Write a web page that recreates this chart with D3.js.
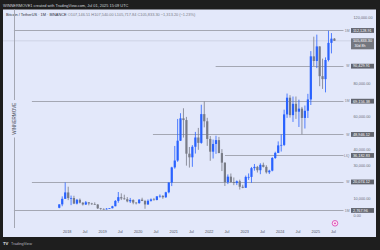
<!DOCTYPE html>
<html><head><meta charset="utf-8">
<script src="https://cdn.jsdelivr.net/npm/d3@7"></script>
<style>body{margin:0;background:#1e1e1e;overflow:hidden}svg{display:block}</style>
</head><body><svg id="c" width="380" height="250"></svg>
<script>
const months = ["2017-10","2017-11","2017-12",
"2018-01","2018-02","2018-03","2018-04","2018-05","2018-06","2018-07","2018-08","2018-09","2018-10","2018-11","2018-12",
"2019-01","2019-02","2019-03","2019-04","2019-05","2019-06","2019-07","2019-08","2019-09","2019-10","2019-11","2019-12",
"2020-01","2020-02","2020-03","2020-04","2020-05","2020-06","2020-07","2020-08","2020-09","2020-10","2020-11","2020-12",
"2021-01","2021-02","2021-03","2021-04","2021-05","2021-06","2021-07","2021-08","2021-09","2021-10","2021-11","2021-12",
"2022-01","2022-02","2022-03","2022-04","2022-05","2022-06","2022-07","2022-08","2022-09","2022-10","2022-11","2022-12",
"2023-01","2023-02","2023-03","2023-04","2023-05","2023-06","2023-07","2023-08","2023-09","2023-10","2023-11","2023-12",
"2024-01","2024-02","2024-03","2024-04","2024-05","2024-06","2024-07","2024-08","2024-09","2024-10","2024-11","2024-12",
"2025-01","2025-02","2025-03","2025-04","2025-05","2025-06","2025-07"];
const openV = [4378,6463,9838,
13716,10285,10326,6923,9246,7494,6391,7730,7011,6626,6371,4041,
3702,3434,3813,4103,5321,8555,10854,10085,9590,8289,9140,7541,
7195,9352,8523,6410,8620,9448,9138,11335,11650,10776,13791,19695,
28923,33092,45135,58740,57694,37253,35045,41461,47100,43824,61300,56950,
46216,38466,43160,45510,37630,31801,19942,23293,20050,19423,20491,17164,
16542,23125,23141,28465,29233,27211,30472,29232,25941,26963,34639,37723,
42284,42580,61130,71280,60672,67540,62773,64629,58974,63327,70216,96407,
93576,102429,84349,82550,94172,104591,107146.51];
const highV = [6470,11300,19798,
17176,11786,11690,9765,10020,7786,8507,7770,7410,7680,6586,4310,
4070,4198,4140,5600,9074,13970,13147,12325,10905,10370,9529,7750,
9578,10500,9188,9467,10067,10380,11444,12468,12067,14100,19863,29300,
41950,58352,61844,64854,59592,41330,42448,50482,52920,67000,69000,59053,
47990,45821,48189,47444,40023,31986,24668,25211,22800,20988,21480,18387,
23960,25250,29184,31000,29820,31431,31804,30244,27483,35198,38450,44729,
48970,64000,73777,72797,71979,71997,70080,65660,66498,73620,99588,108353,
109588,102500,95000,95758,111980,110530,107540];
const lowV = [4110,5325,9722,
9035,6000,6600,6425,7032,5750,6070,5880,6100,6205,3652,3157,
3349,3400,3690,4050,5300,7444,9080,9320,7710,7300,6515,6427,
6871,8445,3782,6150,8117,8833,8893,10518,9825,10374,13195,17573,
28130,32296,44950,47044,30000,28805,29278,37332,39600,43283,53256,42000,
32917,34322,37155,37578,26700,17622,18781,19520,18125,18190,15476,16256,
16499,21351,19549,26942,25811,24800,28861,25166,24901,26538,34097,37629,
38555,41884,59006,59191,56552,58402,53485,49000,52550,58946,66835,90500,
89256,78258,76606,74508,93322,98200,105717.84];
const closeV = [6463,9838,13716,
10285,10326,6923,9246,7494,6391,7730,7011,6626,6371,4041,3702,
3434,3813,4103,5321,8555,10854,10085,9590,8289,9140,7541,7195,
9352,8523,6410,8620,9448,9138,11335,11650,10776,13791,19695,28923,
33092,45135,58740,57694,37253,35045,41461,47100,43824,61300,56950,46216,
38466,43160,45510,37630,31801,19942,23293,20050,19423,20491,17164,16542,
23125,23141,28465,29233,27211,30472,29232,25941,26963,34639,37723,42284,
42580,61130,71280,60672,67540,62773,64629,58974,63327,70216,96407,93576,
102429,84349,82550,94172,104591,107147,105833.30];

const priceTicks = [0,10000,30000,40000,60000,80000,120000];
const timeTicks = ["2018-01","2018-07","2019-01","2019-07","2020-01","2020-07","2021-01","2021-07","2022-01","2022-07","2023-01","2023-07","2024-01","2024-07","2025-01","2025-07"];

const levelValues = [112128.91, 90429.91, 69156.38, 48946.12, 36182.83, 20074.12, 2767.96];
const levelTags = ["1M","W","1M","W","LIQ","W","1M"];
const levelFrom = ["2016-07-07","2022-03-13","2017-01-08","2020-06-06","2022-06-17","2017-01-08","2016-07-07"];
const markerDate = "2016-07-07";
const lastPrice = 105833.30;
const countdown = "30d 8h";

const header = "WINNERMOVE1 created with TradingView.com, Jul 01, 2025 15:09 UTC";
const symbolText = "Bitcoin / TetherUS · 1M · BINANCE";
const ohlcText = "O107,146.51 H107,540.00 L105,717.84 C105,833.30 −1,313.20 (−1.23%)";

const svg = d3.select("#c");
const FONT = "'Liberation Sans', Arial, sans-serif";
const panel = "#e3e8fa";
const up = "#2962ff", down = "#787b86";

const parseM = d3.utcParse("%Y-%m");
const parseD = d3.utcParse("%Y-%m-%d");
const x = d3.scaleUtc().domain([parseM("2018-01"), parseM("2025-01")]).range([66.7, 315.3]);
const y = d3.scaleLinear().domain([0, 120000]).range([215, 17.5]);

svg.append("rect").attr("width",380).attr("height",250).attr("fill","#1e1e1e");
svg.append("rect").attr("x",3).attr("y",9.5).attr("width",373).attr("height",227.5).attr("fill",panel);

// header
svg.append("text").attr("x",3).attr("y",6.6).attr("font-family",FONT).attr("font-size",3.9)
  .attr("fill","#d1d4dc").text(header);
const t = svg.append("text").attr("x",6).attr("y",16).attr("font-family",FONT).attr("font-size",3.9);
t.append("tspan").attr("fill","#2a2e39").text(symbolText + " ");
t.append("tspan").attr("fill","#787b86").text(ohlcText);

// last price line
svg.append("line").attr("x1",3).attr("x2",351).attr("y1",y(lastPrice)).attr("y2",y(lastPrice))
  .attr("stroke","#c9cee0").attr("stroke-width",0.8);

// level lines
levelValues.forEach((v,i)=>{
  svg.append("line").attr("x1",x(parseD(levelFrom[i]))).attr("x2",343.5)
    .attr("y1",Math.round(y(v))+0.5).attr("y2",Math.round(y(v))+0.5)
    .attr("stroke","#a4a7b3").attr("stroke-width",1);
});

// vertical marker line + label
const mx = Math.round(x(parseD(markerDate)))+0.5;
svg.append("line").attr("x1",mx).attr("x2",mx).attr("y1",9.5).attr("y2",228)
  .attr("stroke","#a4a7b3").attr("stroke-width",1);
svg.append("rect").attr("x",mx-2.5).attr("y",100).attr("width",5).attr("height",37.5).attr("fill",panel);
svg.append("text").attr("transform",`translate(${mx+1.6},118.7) rotate(-90)`)
  .attr("text-anchor","middle").attr("font-family",FONT).attr("font-size",4.6)
  .attr("fill","#50535e").text("WINNERMOVE");

// candles
const data = months.map((m,i)=>({d:parseM(m), o:openV[i], h:highV[i], l:lowV[i], c:closeV[i]}));
const cx = d => { const a = x(d.d), b = x(d3.utcMonth.offset(d.d,1)); return (a+b)/2; };
const g = svg.append("g");
g.selectAll("line.w").data(data).join("line")
  .attr("x1",d=>cx(d)).attr("x2",d=>cx(d)).attr("y1",d=>y(d.h)).attr("y2",d=>y(d.l))
  .attr("stroke",d=>d.c>=d.o?up:down).attr("stroke-width",0.8);
g.selectAll("rect.b").data(data).join("rect")
  .attr("x",d=>cx(d)-1.1).attr("width",2.2)
  .attr("y",d=>y(Math.max(d.o,d.c)))
  .attr("height",d=>Math.max(0.7, Math.abs(y(d.o)-y(d.c))))
  .attr("fill",d=>d.c>=d.o?up:down);

// price axis
const ya = svg.append("g").attr("transform","translate(353.5,0)")
  .call(d3.axisRight(y).tickValues(priceTicks).tickFormat(d3.format(",.2f")).tickSize(0).tickPadding(0));
ya.select(".domain").remove();
ya.selectAll("text").attr("font-family",FONT).attr("font-size",3.8).attr("fill","#6a6d78");

// level labels
levelValues.forEach((v,i)=>{
  const yy = y(v);
  svg.append("rect").attr("x",351).attr("y",yy-2.4).attr("width",23).attr("height",4.8).attr("fill","#62656f");
  svg.append("text").attr("x",353).attr("y",yy).attr("dy","0.35em").attr("font-family",FONT)
    .attr("font-size",3.8).attr("fill","#ffffff").text(d3.format(",.2f")(v));
  svg.append("text").attr("x",349.5).attr("y",yy).attr("dy","0.35em").attr("text-anchor","end")
    .attr("font-family",FONT).attr("font-size",3.4).attr("fill","#787b86").text(levelTags[i]);
});
// last price label
const ly = y(lastPrice);
svg.append("rect").attr("x",351).attr("y",ly-2.5).attr("width",23).attr("height",11).attr("fill","#74777f");
svg.append("text").attr("x",353).attr("y",ly).attr("dy","0.35em").attr("font-family",FONT)
  .attr("font-size",3.8).attr("fill","#ffffff").text(d3.format(",.2f")(lastPrice));
svg.append("text").attr("x",354.5).attr("y",ly+4.6).attr("dy","0.35em").attr("font-family",FONT)
  .attr("font-size",3.6).attr("fill","#ffffff").text(countdown);

// time axis
const xa = svg.append("g").attr("transform","translate(0,230.5)")
  .call(d3.axisBottom(x).tickValues(timeTicks.map(parseM))
    .tickFormat(d=>d.getUTCMonth()===0?d3.utcFormat("%Y")(d):"Jul").tickSize(0).tickPadding(0));
xa.select(".domain").remove();
xa.selectAll("text").attr("font-family",FONT).attr("font-size",3.8).attr("fill","#50535e");

// event icon
svg.append("circle").attr("cx",335).attr("cy",223.3).attr("r",2.8).attr("fill","#fbe4f4")
  .attr("stroke","#d83fb0").attr("stroke-width",0.8);
svg.append("circle").attr("cx",335).attr("cy",223.3).attr("r",0.9).attr("fill","#d83fb0");

// footer logo
svg.append("text").attr("x",3).attr("y",245).attr("font-family",FONT).attr("font-size",4.2)
  .attr("font-weight","bold").attr("fill","#e0e3eb").text("TV");
svg.append("text").attr("x",11).attr("y",245).attr("font-family",FONT).attr("font-size",3.8)
  .attr("fill","#b2b5be").text("TradingView");
</script></body></html>
